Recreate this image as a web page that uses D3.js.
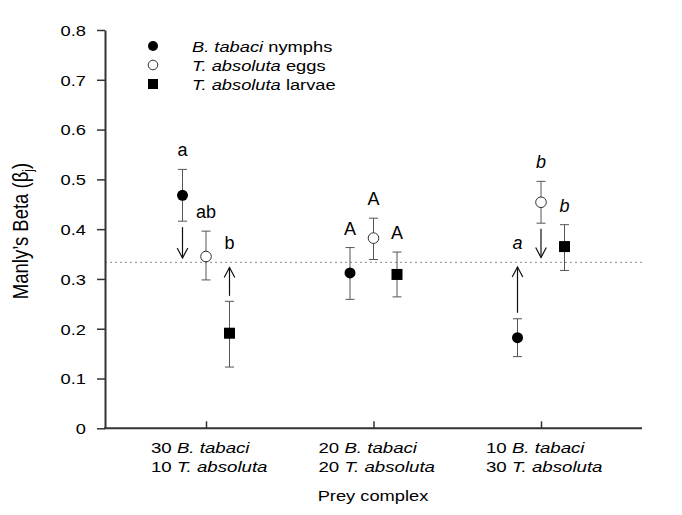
<!DOCTYPE html>
<html><head><meta charset="utf-8">
<script src="https://cdn.jsdelivr.net/npm/d3@7"></script>
<style>
body{margin:0;background:#fff;}
svg text{font-family:"Liberation Sans",Arial,Helvetica,sans-serif;fill:#000;}
</style></head>
<body><svg id="c" width="682" height="515"></svg>
<script>
// ---- data ----
const groupsB = ["30", "20", "10"];          // B. tabaci counts
const groupsT = ["10", "20", "30"];          // T. absoluta counts
const seriesNames = ["nymphs", "eggs", "larvae"];
const legendItalic = ["B. tabaci", "T. absoluta", "T. absoluta"];
const legendRest = [" nymphs", " eggs", " larvae"];

const nymphsMean = [0.468, 0.312, 0.182];
const nymphsLo   = [0.416, 0.259, 0.144];
const nymphsHi   = [0.520, 0.363, 0.220];
const eggsMean   = [0.345, 0.382, 0.454];
const eggsLo     = [0.298, 0.339, 0.412];
const eggsHi     = [0.396, 0.422, 0.496];
const larvaeMean = [0.191, 0.309, 0.365];
const larvaeLo   = [0.123, 0.264, 0.317];
const larvaeHi   = [0.255, 0.354, 0.409];

// arrows: [from, to] or null
const nymphsArrow = [[0.404, 0.342], null, [0.232, 0.324]];
const eggsArrow   = [null, null, [0.401, 0.343]];
const larvaeArrow = [[0.266, 0.323], null, null];

// significance letters
const nymphsLetter = ["a", "A", "a"];
const eggsLetter   = ["ab", "A", "b"];
const larvaeLetter = ["b", "A", "b"];
const letterItalic = [false, false, true];

const refLine = 1/3;
const yTicks = [0, 0.1, 0.2, 0.3, 0.4, 0.5, 0.6, 0.7, 0.8];

// ---- layout ----
const SX = 1.22;
const svg = d3.select("#c");
const y = d3.scaleLinear().domain([0, 0.8]).range([428.3, 30]);
const x = d3.scalePoint().domain([0,1,2]).range([206, 541]);
const xo = d3.scalePoint().domain(seriesNames).range([-23.5, 23.5]);
const axisL = 105, axisR = 642;

const series = [
  {name:"nymphs", mean:nymphsMean, lo:nymphsLo, hi:nymphsHi, arrow:nymphsArrow, letter:nymphsLetter, shape:"filled"},
  {name:"eggs", mean:eggsMean, lo:eggsLo, hi:eggsHi, arrow:eggsArrow, letter:eggsLetter, shape:"open"},
  {name:"larvae", mean:larvaeMean, lo:larvaeLo, hi:larvaeHi, arrow:larvaeArrow, letter:larvaeLetter, shape:"square"}
];

// reference dotted line
svg.append("line").attr("x1", axisL).attr("x2", axisR)
  .attr("y1", y(refLine)).attr("y2", y(refLine))
  .attr("stroke", "#888").attr("stroke-width", 1).attr("stroke-dasharray", "2,3");

// y axis
const ya = svg.append("g").attr("transform", `translate(${axisL},0)`)
  .call(d3.axisLeft(y).tickValues(yTicks).tickSize(8).tickSizeOuter(0)
    .tickFormat(d => d === 0 ? "0" : d3.format(".1f")(d)));
ya.select(".domain").attr("stroke", "#333").attr("stroke-width", 2);
ya.selectAll(".tick line").attr("stroke", "#333").attr("stroke-width", 1.5);
ya.selectAll(".tick text").attr("font-size", 15).attr("font-family", null)
  .attr("x", -19 / SX).attr("dy", "0.36em").attr("transform", `scale(${SX},1)`).attr("fill", "#000");

// x axis
svg.append("line").attr("x1", axisL - 1).attr("x2", axisR).attr("y1", y(0)).attr("y2", y(0))
  .attr("stroke", "#333").attr("stroke-width", 2);
const xa = svg.append("g").attr("transform", `translate(0,${y(0)})`)
  .call(d3.axisBottom(x).tickSizeInner(-7).tickSizeOuter(0).tickFormat(""));
xa.select(".domain").remove();
xa.selectAll(".tick line").attr("stroke", "#333").attr("stroke-width", 1.5);

// x tick labels
[0,1,2].forEach(i => {
  const t = svg.append("text").attr("font-size", 15.3)
    .attr("transform", `translate(${x(i) - 55},453) scale(${SX},1)`);
  const l1 = t.append("tspan").attr("x", 0).attr("y", 0);
  l1.append("tspan").text(groupsB[i] + " ");
  l1.append("tspan").attr("font-style", "italic").text("B. tabaci");
  const l2 = t.append("tspan").attr("x", 0).attr("y", 19);
  l2.append("tspan").text(groupsT[i] + " ");
  l2.append("tspan").attr("font-style", "italic").text("T. absoluta");
});

// axis titles
svg.append("text").attr("font-size", 15.5).attr("text-anchor", "middle")
  .attr("transform", `translate(373,501) scale(1.18,1)`).text("Prey complex");
const yt = svg.append("text").attr("font-size", 18.5).attr("text-anchor", "middle")
  .attr("transform", `translate(28,231) scale(1.2,1) rotate(-90)`);
yt.append("tspan").text("Manly\u2019s Beta (\u03B2");
yt.append("tspan").attr("font-size", 12).attr("dy", 4).text("j");
yt.append("tspan").attr("dy", -4).text(")");

// error bars, arrows, markers, letters
function arrow(g, xx, from, to) {
  const y1 = y(from), y2 = y(to);
  const dir = y2 > y1 ? 1 : -1;
  g.append("line").attr("x1", xx).attr("x2", xx).attr("y1", y1).attr("y2", y2)
    .attr("stroke", "#111").attr("stroke-width", 1.2);
  g.append("path").attr("d", `M${xx-5.3},${y2 - dir*10}L${xx},${y2}L${xx+5.3},${y2 - dir*10}`)
    .attr("fill", "none").attr("stroke", "#111").attr("stroke-width", 1.2);
}

series.forEach(s => {
  const g = svg.append("g");
  [0,1,2].forEach(i => {
    const xx = x(i) + xo(s.name);
    // error bar
    g.append("line").attr("x1", xx).attr("x2", xx).attr("y1", y(s.lo[i])).attr("y2", y(s.hi[i]))
      .attr("stroke", "#555").attr("stroke-width", 1);
    [s.lo[i], s.hi[i]].forEach(v => {
      g.append("line").attr("x1", xx - 4.5).attr("x2", xx + 4.5).attr("y1", y(v)).attr("y2", y(v))
        .attr("stroke", "#555").attr("stroke-width", 1);
    });
    // arrow
    let top = y(s.hi[i]) - 13;
    const a = s.arrow[i];
    if (a) {
      arrow(g, xx, a[0], a[1]);
      if (a[1] > a[0]) top = y(a[1]) - 18;
    }
    // marker
    if (s.shape === "filled") {
      g.append("circle").attr("cx", xx).attr("cy", y(s.mean[i])).attr("r", 5.5).attr("fill", "#000");
    } else if (s.shape === "open") {
      g.append("circle").attr("cx", xx).attr("cy", y(s.mean[i])).attr("r", 5.3)
        .attr("fill", "#fff").attr("stroke", "#333").attr("stroke-width", 1);
    } else {
      g.append("rect").attr("x", xx - 5.5).attr("y", y(s.mean[i]) - 5.5).attr("width", 11).attr("height", 11)
        .attr("fill", "#000");
    }
    // letter
    g.append("text").attr("x", xx).attr("y", top).attr("text-anchor", "middle")
      .attr("font-size", 18).attr("font-style", letterItalic[i] ? "italic" : "normal")
      .text(s.letter[i]);
  });
});

// legend
const legY = [46, 65, 84];
series.forEach((s, k) => {
  const cy = legY[k];
  if (s.shape === "filled") svg.append("circle").attr("cx", 153).attr("cy", cy).attr("r", 5).attr("fill", "#000");
  else if (s.shape === "open") svg.append("circle").attr("cx", 153).attr("cy", cy).attr("r", 4.8)
      .attr("fill", "#fff").attr("stroke", "#333").attr("stroke-width", 1);
  else svg.append("rect").attr("x", 148).attr("y", cy - 5).attr("width", 10).attr("height", 10).attr("fill", "#000");
  const t = svg.append("text").attr("font-size", 15)
    .attr("transform", `translate(192,${cy + 6}) scale(${SX},1)`);
  t.append("tspan").attr("font-style", "italic").text(legendItalic[k]);
  t.append("tspan").text(legendRest[k]);
});
</script></body></html>
